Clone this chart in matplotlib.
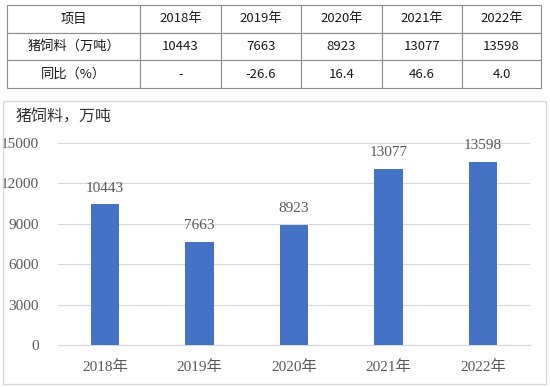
import matplotlib
matplotlib.use("Agg")
import matplotlib.pyplot as plt
from matplotlib.patches import Rectangle

years = ["2018年", "2019年", "2020年", "2021年", "2022年"]
feed = [10443, 7663, 8923, 13077, 13598]
yoy = ["-", "-26.6", "16.4", "46.6", "4.0"]
header = ["项目"] + years
row_names = ["猪饲料（万吨）", "同比（%）"]
yticks = [0, 3000, 6000, 9000, 12000, 15000]

sans = ["Noto Sans CJK SC", "DejaVu Sans"]
serif = ["Liberation Serif", "Noto Sans CJK SC"]
grey = "#595959"

fig = plt.figure(figsize=(5.5, 3.87), dpi=100)

# table at the top
tax = fig.add_axes([7 / 550, 1 - 88 / 387, 534 / 550, 83 / 387])
tax.axis("off")
cells = [header,
         [row_names[0]] + [str(v) for v in feed],
         [row_names[1]] + yoy]
widths = [133, 81, 80, 81, 80, 79]
widths = [w / sum(widths) for w in widths]
tbl = tax.table(cellText=cells, colWidths=widths, cellLoc="center",
                bbox=[0, 0, 1, 1])
tbl.auto_set_font_size(False)
for (r, c), cell in tbl.get_celld().items():
    cell.set_edgecolor("#8c8c8c")
    cell.set_linewidth(0.8)
    cell.get_text().set_fontsize(9.5)
    cell.get_text().set_family(sans)
    cell.get_text().set_color("#1a1a1a")

# panel frame for the chart
fig.patches.append(Rectangle((3 / 550, 1 - 384 / 387), 543 / 550, 283 / 387,
                             transform=fig.transFigure, fill=False,
                             edgecolor="#d9d9d9", linewidth=1))

ax = fig.add_axes([58 / 550, 1 - 345 / 387, 472 / 550, 202 / 387])
x = range(len(years))
bars = ax.bar(x, feed, width=0.3, color="#4472c4", zorder=3)
for b, v in zip(bars, feed):
    ax.text(b.get_x() + b.get_width() / 2, v + 700, str(v), ha="center",
            va="bottom", fontsize=11, color=grey, family=serif)

ax.set_xlim(-0.5, 4.5)
ax.set_ylim(0, 15000)
ax.set_yticks(yticks)
ax.set_yticklabels([str(t) for t in yticks], family=serif, fontsize=11, color=grey)
ax.set_xticks(list(x))
ax.set_xticklabels(years, family=serif, fontsize=11, color=grey)
ax.grid(axis="y", color="#d9d9d9", linewidth=0.8, zorder=0)
for s in ["top", "right", "left"]:
    ax.spines[s].set_visible(False)
ax.spines["bottom"].set_color("#d9d9d9")
ax.tick_params(length=0)
ax.tick_params(axis="x", pad=11)
ax.tick_params(axis="y", pad=14)

fig.text(15 / 550, 1 - 118 / 387, "猪饲料，万吨", fontsize=11.5, family=serif,
         color="#333333", va="center")

fig.savefig("out.png", dpi=100)
